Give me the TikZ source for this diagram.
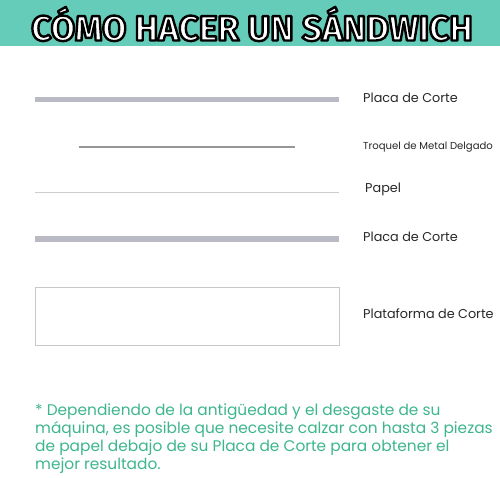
\documentclass[tikz,border=0pt]{standalone}
\usepackage{fontspec}
\setmainfont{Poppins}
\newfontfamily\titlefont{Fira Sans}
\definecolor{teal}{RGB}{102,204,186}
\definecolor{plategray}{RGB}{186,186,196}
\definecolor{diegray}{RGB}{150,150,152}
\definecolor{papergray}{RGB}{205,205,205}
\definecolor{boxgray}{RGB}{200,200,200}
\definecolor{notegreen}{RGB}{62,182,140}
\definecolor{labelgray}{RGB}{40,40,40}
\tikzset{
  lbl/.style={anchor=west, inner sep=0pt, text=labelgray, font=\fontsize{12.8}{15}\selectfont},
  plate/.style={draw=plategray, line width=5pt},
  note/.style={anchor=north west, inner sep=0pt, text=notegreen, align=left, font=\fontsize{15.4}{17.8}\selectfont}
}
\newcommand{\ttltext}{\titlefont\bfseries\fontsize{35.2}{35}\selectfont
  \special{pdf:literal direct 0 0 0 RG 2.4 w 1 j 2 Tr}CÓMO HACER UN SÁNDWICH\special{pdf:literal direct 0 Tr}}
\begin{document}
\begin{tikzpicture}[x=1pt,y=-1pt]
\useasboundingbox (0,0) rectangle (500,478);
\fill[white] (0,0) rectangle (500,478);
\fill[teal] (0,0) rectangle (500,46);
\node[inner sep=0pt, text=white] (title) at (252,24) {\ttltext};
% layers
\coordinate (p1a) at (35,99.5); \coordinate (p1b) at (339,99.5);
\draw[plate] (p1a) -- (p1b);
\coordinate (da) at (79,147); \coordinate (db) at (295,147);
\draw[draw=diegray, line width=1.3pt] (da) -- (db);
\coordinate (pa) at (35,192); \coordinate (pb) at (339,192);
\draw[draw=papergray, line width=0.9pt] (pa) -- (pb);
\coordinate (p2a) at (35,239); \coordinate (p2b) at (339,239);
\draw[plate] (p2a) -- (p2b);
\draw[draw=boxgray, line width=0.9pt] (35,287) rectangle (339,345);
% labels
\node[lbl] (l1) at (363,97.5) {Placa de Corte};
\node[lbl, font=\fontsize{10.1}{11}\selectfont] (l2) at (363,147) {Troquel de Metal Delgado};
\node[lbl] (l3) at (365,189) {Papel};
\node[lbl] (l4) at (363,237) {Placa de Corte};
\node[lbl] (l5) at (363,314) {Plataforma de Corte};
% note
\node[note] (note) at (35,404) {* Dependiendo de la antigüedad y el desgaste de su\\máquina, es posible que necesite calzar con hasta 3 piezas\\de papel debajo de su Placa de Corte para obtener el\\mejor resultado.};
\end{tikzpicture}
\end{document}
